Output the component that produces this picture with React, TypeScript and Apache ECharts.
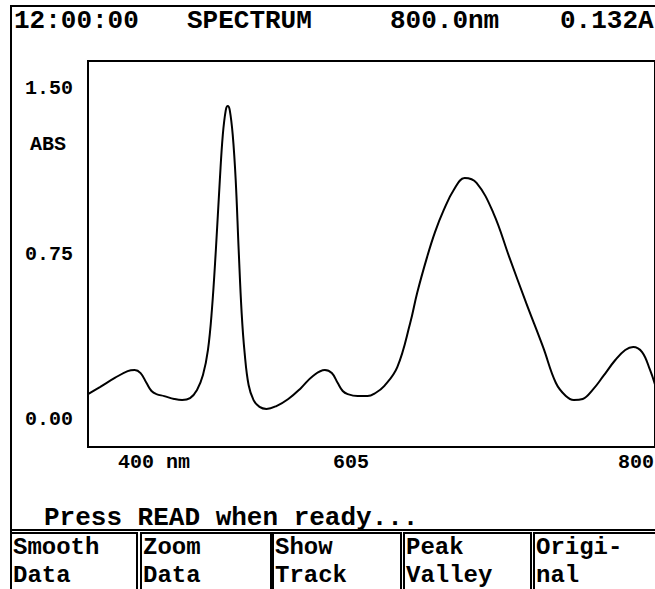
import React, { useEffect, useRef } from "react";
import * as echarts from "echarts";

// Spectrum data (wavelength in nm, absorbance in A)
const wavelengths = [400, 408.4, 418.9, 428.0, 432.9, 437.1, 441.3, 444.8, 448.3, 453.8, 460.8, 466.4, 472.0, 476.9, 481.1, 484.6, 487.4, 490.2, 493.0, 495.1, 497.2, 498.6, 500.0, 502.1, 504.2, 506.3, 508.4, 510.5, 513.3, 516.8, 521.0, 525.9, 532.9, 541.3, 550.3, 558.7, 567.1, 572.0, 576.2, 579.7, 583.2, 590.2, 597.2, 602.8, 609.1, 618.2, 627.3, 632.2, 639.2, 644.8, 651.0, 658.0, 665.7, 674.1, 686.0, 697.2, 709.1, 721.0, 730.1, 737.1, 742.7, 749.0, 756.0, 763.6, 772.0, 779.0, 784.6, 790.9, 796.5, 800];
const absorbance = [0.117, 0.149, 0.190, 0.221, 0.226, 0.212, 0.167, 0.131, 0.117, 0.108, 0.095, 0.090, 0.099, 0.136, 0.203, 0.316, 0.497, 0.768, 1.084, 1.288, 1.400, 1.419, 1.400, 1.288, 1.084, 0.768, 0.483, 0.303, 0.158, 0.090, 0.059, 0.050, 0.063, 0.095, 0.145, 0.199, 0.226, 0.212, 0.167, 0.131, 0.117, 0.108, 0.108, 0.122, 0.154, 0.239, 0.438, 0.574, 0.736, 0.849, 0.949, 1.039, 1.093, 1.071, 0.935, 0.736, 0.529, 0.330, 0.167, 0.108, 0.090, 0.095, 0.136, 0.199, 0.271, 0.316, 0.330, 0.307, 0.226, 0.16];

const yTickValues = [0, 0.75, 1.5];
const xTickLabels = ["400 nm", "605", "800"];
const headerTexts = ["12:00:00", "SPECTRUM", "800.0nm", "0.132A"];
const statusText = "Press READ when ready...";
const yAxisTitle = "ABS";
const buttonLines1 = ["Smooth", "Zoom", "Show", "Peak", "Origi-"];
const buttonLines2 = ["Data", "Data", "Track", "Valley", "nal"];

// layout (positions only)
const headerX = [14, 187, 390, 560];
const xLabelX = [118, 333, 618];
const buttonBoxes = [
  [11, 137],
  [141, 271],
  [273, 401],
  [404, 531],
  [534, 700],
];

const FONT = "'Liberation Mono', 'Courier New', monospace";

export default function App() {
  const ref = useRef<HTMLDivElement>(null);
  useEffect(() => {
    if (!ref.current) return;
    const chart = echarts.init(ref.current, null, { renderer: "svg" });
    const graphic: any[] = [];
    // frame
    graphic.push({ type: "line", shape: { x1: 10, y1: 6, x2: 700, y2: 6 }, style: { stroke: "#000", lineWidth: 2 } });
    graphic.push({ type: "line", shape: { x1: 11, y1: 5, x2: 11, y2: 600 }, style: { stroke: "#000", lineWidth: 2 } });
    graphic.push({ type: "line", shape: { x1: 10, y1: 530, x2: 700, y2: 530 }, style: { stroke: "#000", lineWidth: 2 } });
    headerTexts.forEach((t, i) => {
      graphic.push({
        type: "text", x: headerX[i], y: 21,
        style: { text: t, font: `bold 26px ${FONT}`, fill: "#000", verticalAlign: "middle", align: "left" },
      });
    });
    graphic.push({
      type: "text", x: 30, y: 144,
      style: { text: yAxisTitle, font: `bold 20px ${FONT}`, fill: "#000", verticalAlign: "middle", align: "left" },
    });
    xTickLabels.forEach((t, i) => {
      graphic.push({
        type: "text", x: xLabelX[i], y: 462,
        style: { text: t, font: `bold 20px ${FONT}`, fill: "#000", verticalAlign: "middle", align: "left" },
      });
    });
    graphic.push({
      type: "text", x: 44, y: 518,
      style: { text: statusText, font: `bold 26px ${FONT}`, fill: "#000", verticalAlign: "middle", align: "left" },
    });
    buttonBoxes.forEach(([x0, x1], i) => {
      graphic.push({
        type: "rect", shape: { x: x0, y: 533, width: x1 - x0, height: 80 },
        style: { fill: "none", stroke: "#000", lineWidth: 2 },
      });
      graphic.push({
        type: "text", x: x0 + 2, y: 547,
        style: { text: buttonLines1[i], font: `bold 24px ${FONT}`, fill: "#000", verticalAlign: "middle", align: "left" },
      });
      graphic.push({
        type: "text", x: x0 + 2, y: 575,
        style: { text: buttonLines2[i], font: `bold 24px ${FONT}`, fill: "#000", verticalAlign: "middle", align: "left" },
      });
    });

    chart.setOption({
      animation: false,
      backgroundColor: "#fff",
      grid: { left: 88, top: 61, right: -5, bottom: 142, show: true, borderColor: "#000", borderWidth: 2, backgroundColor: "transparent" },
      xAxis: {
        type: "value", min: 400, max: 800,
        axisLine: { show: false }, axisTick: { show: false }, axisLabel: { show: false }, splitLine: { show: false },
      },
      yAxis: {
        type: "value", min: -0.122, max: 1.622,
        axisLine: { show: false }, axisTick: { show: false }, splitLine: { show: false },
        axisLabel: {
          customValues: yTickValues,
          formatter: (v: number) => v.toFixed(2),
          margin: 15,
          color: "#000",
          fontFamily: FONT,
          fontWeight: "bold",
          fontSize: 20,
        },
      },
      series: [
        {
          type: "line",
          data: wavelengths.map((w, i) => [w, absorbance[i]]),
          showSymbol: false,
          smooth: 0.4,
          lineStyle: { color: "#000", width: 2 },
          clip: true,
        },
      ],
      graphic,
    });
    return () => chart.dispose();
  }, []);
  return <div ref={ref} style={{ position: "fixed", left: 0, top: 0, width: 655, height: 589, background: "#fff" }} />;
}
